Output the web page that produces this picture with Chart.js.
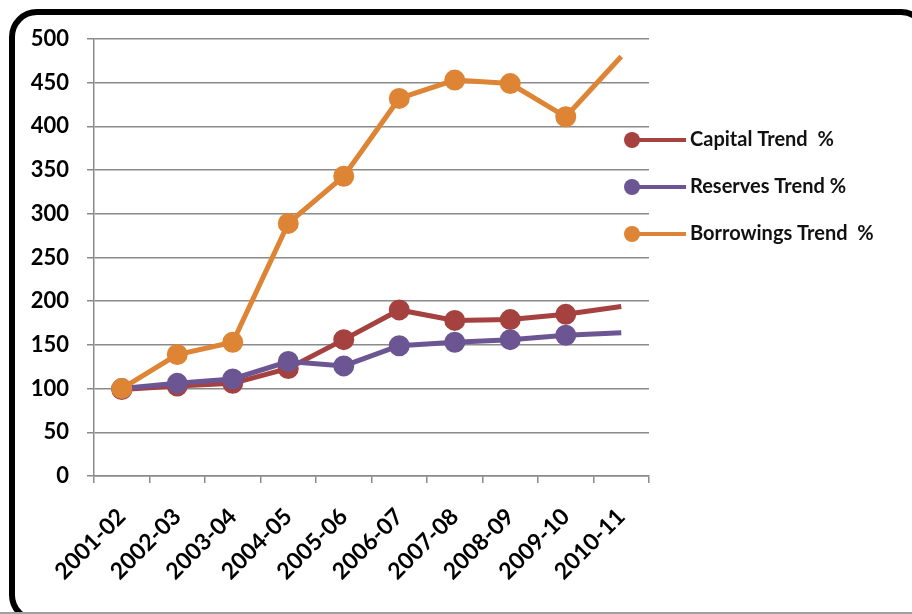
<!DOCTYPE html>
<html>
<head>
<meta charset="utf-8">
<script src="https://cdn.jsdelivr.net/npm/chart.js@4.4.1/dist/chart.umd.min.js"></script>
<style>
  html, body { margin: 0; padding: 0; background: #fff; overflow: hidden; }
  #wrap { position: relative; width: 912px; height: 614px; }
  #frame {
    position: absolute; left: 9px; top: 9px; width: 920px; height: 614px;
    box-sizing: border-box; border: 6px solid #000; border-radius: 28px;
  }
  #edge { position: absolute; left: 0; top: 612px; width: 912px; height: 2px; background: #a0a0a0; }
  #chart { position: absolute; left: 0; top: 0; }
</style>
</head>
<body>
<div id="wrap">
  <div id="frame"></div>
  <div id="edge"></div>
  <canvas id="chart" width="912" height="614"></canvas>
</div>
<script>
"use strict";

// ---------------- DATA ----------------
const years = ["2001-02", "2002-03", "2003-04", "2004-05", "2005-06",
  "2006-07", "2007-08", "2008-09", "2009-10", "2010-11"];

const capitalTrend = [99, 103, 106, 123, 156, 190, 178, 179, 185, 194];
const reservesTrend = [100, 106, 111, 131, 126, 149, 153, 156, 161, 164];
const borrowingsTrend = [100, 139, 153, 289, 343, 432, 453, 449, 411, 480];

const seriesNames = ["Capital Trend  %", "Reserves Trend %", "Borrowings Trend  %"];
const yTicks = [0, 50, 100, 150, 200, 250, 300, 350, 400, 450, 500];

const colors = ["#A5423F", "#6C5593", "#DE8435"];
const FONT = "Lato, 'Liberation Sans', sans-serif";

// last year has no marker in the original
const markerSizes = years.map((y, i) => (i === years.length - 1 ? 0 : 8));

function makeSet(label, data, color, order) {
  return {
    label,
    data,
    order,
    borderColor: color,
    backgroundColor: color,
    pointBackgroundColor: color,
    pointBorderColor: color,
    borderWidth: 5,
    pointRadius: markerSizes,
    pointHoverRadius: markerSizes,
    tension: 0,
    fill: false,
  };
}

// ---------------- LEGEND (circle + line) ----------------
const sideLegend = {
  id: "sideLegend",
  afterDraw(chart) {
    const ctx = chart.ctx;
    const rows = [140, 187, 234];
    ctx.save();
    chart.data.datasets.forEach((ds, i) => {
      const y = rows[i];
      ctx.strokeStyle = ds.borderColor;
      ctx.lineWidth = 4;
      ctx.beginPath();
      ctx.moveTo(632, y);
      ctx.lineTo(686, y);
      ctx.stroke();
      ctx.fillStyle = ds.borderColor;
      ctx.beginPath();
      ctx.arc(632, y, 8, 0, Math.PI * 2);
      ctx.fill();
      ctx.fillStyle = "#111";
      ctx.font = "bold 20px " + FONT;
      ctx.textBaseline = "middle";
      ctx.textAlign = "left";
      ctx.fillText(ds.label, 690, y);
    });
    ctx.restore();
  },
};

// ---------------- CHART ----------------
new Chart(document.getElementById("chart"), {
  type: "line",
  data: {
    labels: years,
    datasets: [
      makeSet(seriesNames[0], capitalTrend, colors[0], 3),
      makeSet(seriesNames[1], reservesTrend, colors[1], 2),
      makeSet(seriesNames[2], borrowingsTrend, colors[2], 1),
    ],
  },
  options: {
    responsive: false,
    animation: false,
    events: [],
    layout: { padding: { top: 39, right: 263, left: 0, bottom: 0 } },
    plugins: {
      legend: { display: false },
      tooltip: { enabled: false },
    },
    scales: {
      x: {
        offset: true,
        grid: {
          offset: true,
          drawOnChartArea: false,
          drawTicks: true,
          tickLength: 7,
          color: "#8a8a8a",
          lineWidth: 1.5,
        },
        border: { color: "#8a8a8a", width: 1.5 },
        ticks: {
          color: "#000",
          font: { family: FONT, size: 23, weight: "bold" },
          minRotation: 45,
          maxRotation: 45,
          autoSkip: false,
          padding: 20,
        },
        afterFit: (s) => { s.height = 138; },
      },
      y: {
        min: 0,
        max: 500,
        afterBuildTicks: (s) => { s.ticks = yTicks.map((v) => ({ value: v })); },
        grid: {
          color: "#8a8a8a",
          lineWidth: 1.5,
          tickLength: 7,
        },
        border: { color: "#8a8a8a", width: 1.5 },
        ticks: {
          color: "#000",
          font: { family: FONT, size: 22, weight: "bold" },
          padding: 18,
        },
        afterFit: (s) => { s.width = 94; },
      },
    },
  },
  plugins: [sideLegend],
});
</script>
</body>
</html>
